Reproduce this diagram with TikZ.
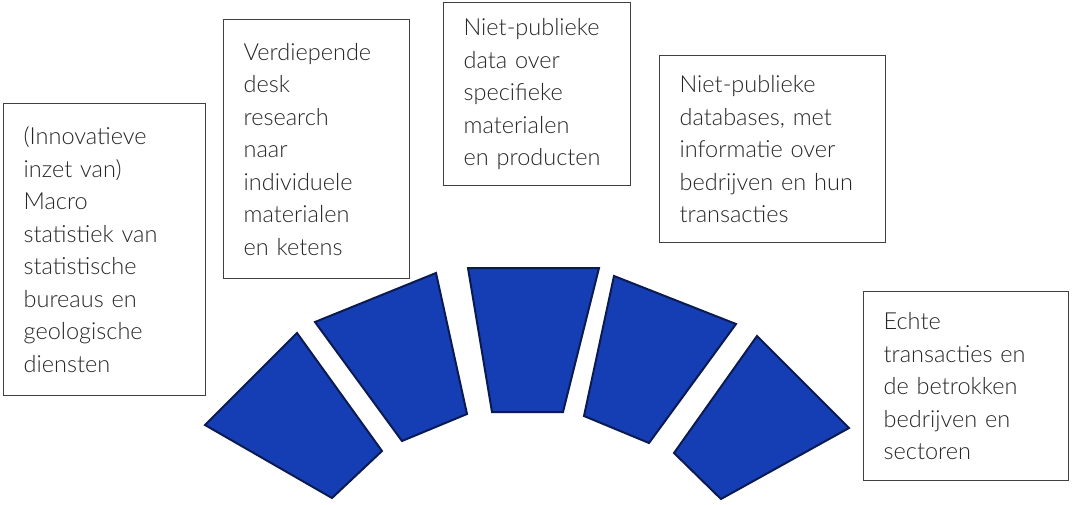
\documentclass[tikz,border=0pt]{standalone}
\usepackage{fontspec}
\setmainfont{Lato}[UprightFont=* Light]

\definecolor{blokblauw}{RGB}{21,62,180}
\definecolor{blokrand}{RGB}{11,27,82}
\definecolor{kaderrand}{RGB}{64,64,64}

\tikzset{
    kader/.style={draw=kaderrand, line width=1.3pt, anchor=north west,
        align=left, inner xsep=20pt, inner ysep=0pt, text=black!85,
        font=\fontsize{23.5}{32.5}\selectfont},
    blok/.style={fill=blokblauw, draw=blokrand, line width=2pt}
}

\begin{document}
\begin{tikzpicture}[x=1pt, y=-1pt]
                \useasboundingbox (0,0) rectangle (1072,504);

                % bronnen
                \node[kader, minimum width=202pt, minimum height=292pt, text width=162pt] (b1) at (3,103)
                    {(Innovatieve\\inzet van)\\Macro\\statistiek van\\statistische\\bureaus en\\geologische\\diensten};
                \node[kader, minimum width=186pt, minimum height=259pt, text width=146pt] (b2) at (223,19)
                    {Verdiepende\\desk\\research\\naar\\individuele\\materialen\\en ketens};
                \node[kader, minimum width=187pt, minimum height=183pt, text width=147pt] (b3) at (443,2)
                    {Niet-publieke\\data over\\specifieke\\materialen\\en producten};
                \node[kader, minimum width=226pt, minimum height=187pt, text width=186pt] (b4) at (659,55)
                    {Niet-publieke\\databases, met\\informatie over\\bedrijven en hun\\transacties};
                \node[kader, minimum width=205pt, minimum height=189pt, text width=165pt] (b5) at (863,291)
                    {Echte\\transacties en\\de betrokken\\bedrijven en\\sectoren};

                % boog van blokken
                \draw[blok] (297,333) -- (205,425) -- (332,498) -- (382,451) -- cycle;
                \draw[blok] (315,322) -- (436,273) -- (467,414) -- (402,441) -- cycle;
                \draw[blok] (468,268) -- (599,268) -- (563,412) -- (492,412) -- cycle;
                \draw[blok] (614,276) -- (736,324) -- (649,443) -- (584,416) -- cycle;
                \draw[blok] (757,336) -- (849,428) -- (721,499) -- (674,453) -- cycle;
\end{tikzpicture}
\end{document}
